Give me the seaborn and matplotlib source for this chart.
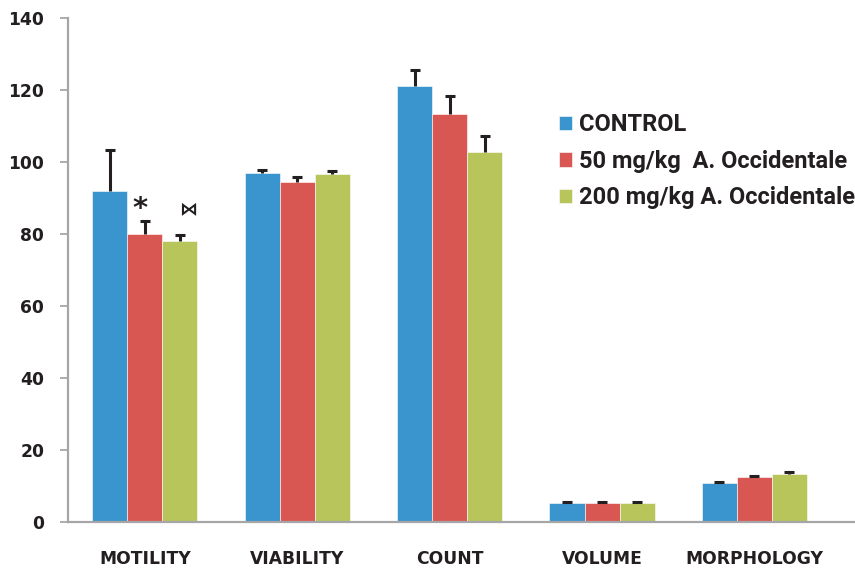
import numpy as np
import pandas as pd
import matplotlib
matplotlib.use("Agg")
import matplotlib.pyplot as plt
import seaborn as sns

# valores
categorias = ["MOTILITY", "VIABILITY", "COUNT", "VOLUME", "MORPHOLOGY"]
grupos = ["CONTROL", "50 mg/kg  A. Occidentale", "200 mg/kg A. Occidentale"]
controle = [92.0, 96.9, 121.0, 5.2, 10.7]
dose50 = [80.0, 94.5, 113.2, 5.2, 12.4]
dose200 = [78.0, 96.6, 102.7, 5.2, 13.2]
erro_controle = [11.4, 0.8, 4.6, 0.3, 0.5]
erro_50 = [3.5, 1.2, 5.2, 0.3, 0.4]
erro_200 = [1.6, 0.8, 4.4, 0.3, 0.8]
cores = ["#3A94CD", "#D95752", "#B7C55B"]

valores = [controle, dose50, dose200]
erros = [erro_controle, erro_50, erro_200]

df = pd.DataFrame({
    "categoria": np.tile(categorias, 3),
    "grupo": np.repeat(grupos, len(categorias)),
    "valor": np.concatenate(valores),
    "erro": np.concatenate(erros),
})

sns.set_style("white")
fig = plt.figure(figsize=(8.55, 5.69), dpi=100)
ax = fig.add_axes([0.0795, 0.0826, 0.9205, 0.8858])

sns.barplot(data=df, x="categoria", y="valor", hue="grupo", palette=cores,
            saturation=1, width=0.69, gap=0, errorbar=None, ax=ax,
            edgecolor="white", linewidth=0.4)

barras = list(ax.containers)

# barras de erro (só para cima)
for i, cont in enumerate(barras):
    xs = [b.get_x() + b.get_width() / 2 for b in cont]
    ys = valores[i]
    eb = ax.errorbar(xs, ys, yerr=[np.zeros(len(ys)), erros[i]], fmt="none",
                     ecolor="#231F20", elinewidth=2.2, capsize=3.5, capthick=2.2)
    eb[1][0].set_visible(False)  # tira o traço de baixo

# marcas de significância
x50 = barras[1][0].get_x() + barras[1][0].get_width() / 2
x200 = barras[2][0].get_x() + barras[2][0].get_width() / 2
ax.text(x50 - 0.03, 87, "*", ha="center", va="center", fontsize=21,
        fontweight="bold", color="#231F20", family="DejaVu Sans")
ax.text(x200 + 0.05, 86.5, "⋈", ha="center", va="center", fontsize=13,
        fontweight="bold", color="#231F20", family="DejaVu Sans")

ax.set_ylim(0, 140)
ax.set_xlim(-0.505, 4.66)
ax.set_yticks(range(0, 141, 20))
ax.set_xlabel("")
ax.set_ylabel("")

for s in ["top", "right"]:
    ax.spines[s].set_visible(False)
for s in ["left", "bottom"]:
    ax.spines[s].set_color("#A6A6A8")
    ax.spines[s].set_linewidth(1.6)

ax.tick_params(axis="y", direction="out", length=6, width=1.3, color="#A6A6A8",
               left=True, pad=11)
ax.tick_params(axis="x", length=0, pad=20)
for lbl in ax.get_xticklabels() + ax.get_yticklabels():
    lbl.set_fontweight("bold")
    lbl.set_fontsize(12.3)
    lbl.set_color("#231F20")
    lbl.set_family("DejaVu Sans")

leg = ax.legend(loc="upper left", bbox_to_anchor=(0.612, 0.83), frameon=False,
                prop={"family": "Roboto", "weight": "bold", "size": 17},
                handlelength=0.55, handleheight=0.55, handletextpad=0.3,
                labelspacing=0.58, borderaxespad=0)
for t in leg.get_texts():
    t.set_color("#231F20")

fig.savefig("out.png", dpi=100)
